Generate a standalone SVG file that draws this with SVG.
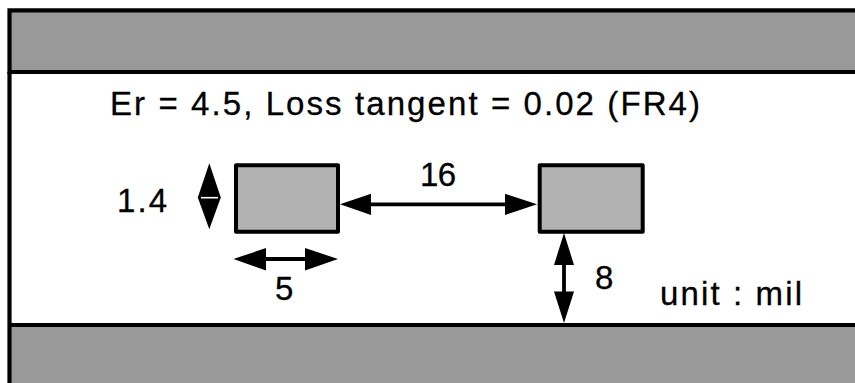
<svg xmlns="http://www.w3.org/2000/svg" width="855" height="383" viewBox="0 0 855 383">
<style>
text{font-family:"Liberation Sans",Arial,sans-serif;font-size:33px;fill:#000;stroke:#000;stroke-width:.3}
.plane{fill:#999;stroke:none}
.edge{fill:none;stroke:#000;stroke-width:4.2}
.trace{fill:#b2b2b2;stroke:#000;stroke-width:4;stroke-linejoin:round}
.dim{fill:none;stroke:#000;stroke-width:3.8}
.head{fill:#000;stroke:none}
</style>
<rect width="855" height="383" fill="#fff"/>
<g id="top-plane">
<rect class="plane" x="10" y="10" width="845" height="62"/>
<path class="edge" d="M855 10.300H9.500V72H855"/>
</g>
<g id="bottom-plane">
<rect class="plane" x="10" y="325" width="845" height="58"/>
<path class="edge" d="M855 325H9.500"/>
</g>
<g id="dielectric"><path class="edge" d="M9.500 72V383"/></g>
<g id="trace-left"><rect class="trace" x="236" y="165.300" width="102" height="66.400"/></g>
<g id="trace-right"><rect class="trace" x="539.700" y="165.300" width="103" height="66.400"/></g>
<g id="connectors">
<path class="head" d="M209.300 163.300L220.800 197.500L209.300 229.300L197.800 197.500Z"/>
<path d="M201 197.700H218" stroke="#fff" stroke-width="1.600" fill="none"/>
<path class="dim" d="M266 259H306"/>
<path class="head" d="M233.500 259L266 248V270.500ZM338 259L305 248V270.500Z"/>
<path class="dim" d="M370 204.300H506"/>
<path class="head" d="M340 204.300L371 193.800V215ZM537 204.300L505 193.800V215Z"/>
<path class="dim" d="M564 264V293"/>
<path class="head" d="M564 233L574 265H554ZM564 323L554 291.500H574Z"/>
</g>
<g id="labels">
<text x="110" y="114.500" textLength="590">Er = 4.5, Loss tangent = 0.02 (FR4)</text>
<text x="117" y="212" textLength="50">1.4</text>
<text x="420" y="186" textLength="36">16</text>
<text x="275" y="300">5</text>
<text x="595" y="289">8</text>
<text x="660" y="304.500" textLength="142">unit : mil</text>
</g>
</svg>
